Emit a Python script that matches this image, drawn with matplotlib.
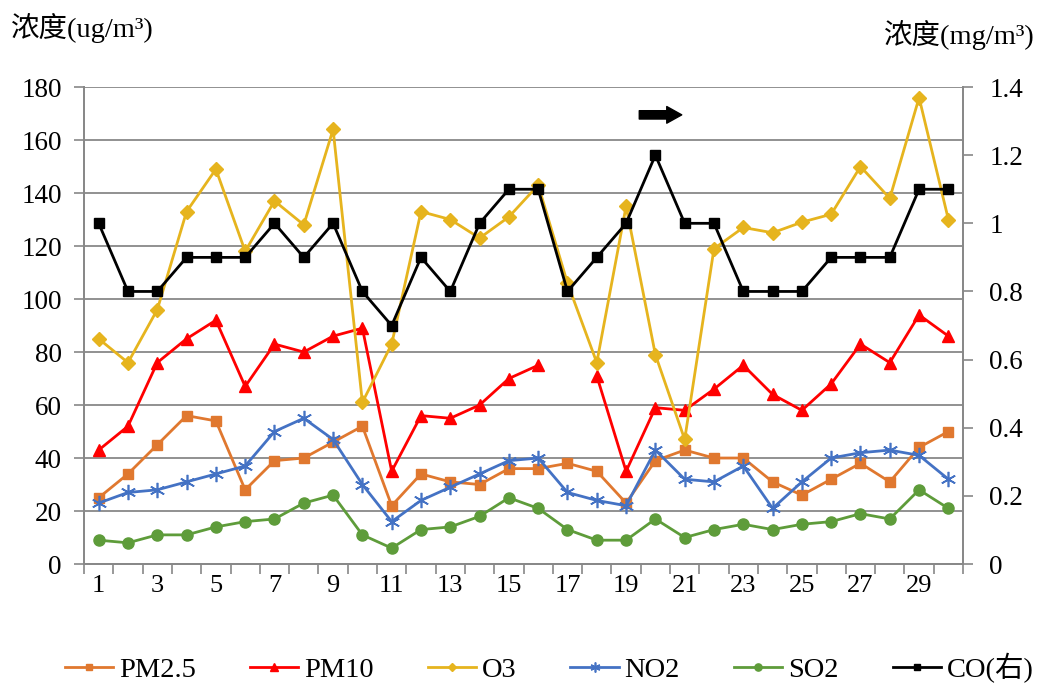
import numpy as np
import matplotlib
matplotlib.use('Agg')
from matplotlib import pyplot as plt
from matplotlib.ticker import FixedLocator, FuncFormatter

plt.rcParams['font.family'] = ['Liberation Serif', 'Noto Sans CJK SC']

days = np.arange(1, 31)
pm25 = [25, 34, 45, 56, 54, 28, 39, 40, 46, 52, 22, 34, 31, 30, 36, 36, 38, 35, 23, 39,
        43, 40, 40, 31, 26, 32, 38, 31, 44, 50]
pm10 = [43, 52, 76, 85, 92, 67, 83, 80, 86, 89, 35, 56, 55, 60, 70, 75, np.nan, 71, 35, 59,
        58, 66, 75, 64, 58, 68, 83, 76, 94, 86]
o3 = [85, 76, 96, 133, 149, 118, 137, 128, 164, 61, 83, 133, 130, 123, 131, 143, 106, 76, 135, 79,
      47, 119, 127, 125, 129, 132, 150, 138, 176, 130]
no2 = [23, 27, 28, 31, 34, 37, 50, 55, 47, 30, 16, 24, 29, 34, 39, 40, 27, 24, 22, 43,
       32, 31, 37, 21, 31, 40, 42, 43, 41, 32]
so2 = [9, 8, 11, 11, 14, 16, 17, 23, 26, 11, 6, 13, 14, 18, 25, 21, 13, 9, 9, 17,
       10, 13, 15, 13, 15, 16, 19, 17, 28, 21]
co = [1.0, 0.8, 0.8, 0.9, 0.9, 0.9, 1.0, 0.9, 1.0, 0.8, 0.7, 0.9, 0.8, 1.0, 1.1, 1.1, 0.8, 0.9, 1.0, 1.2,
      1.0, 1.0, 0.8, 0.8, 0.8, 0.9, 0.9, 0.9, 1.1, 1.1]

fig = plt.figure(figsize=(10.4, 6.88), dpi=100)
ax = fig.add_axes([0.0808, 0.1802, 0.8452, 0.6933])
ax2 = ax.twinx()

lw = 2.0
l1, = ax.plot(days, pm25, color='#E0782F', lw=lw, marker='s', ms=7.5, label='PM2.5')
l2, = ax.plot(days, pm10, color='#FF0000', lw=lw, marker='^', ms=8.5, label='PM10')
l3, = ax.plot(days, o3, color='#E6B41E', lw=lw, marker='D', ms=7, label='O3')
l4, = ax.plot(days, no2, color='#4472C4', lw=lw, marker=(6, 2, 0), ms=11, mew=1.2, label='NO2')
l5, = ax.plot(days, so2, color='#5E9C3A', lw=lw, marker='o', ms=8, label='SO2')
l6, = ax2.plot(days, co, color='black', lw=lw, marker='s', ms=7.5, label='CO(右)')

gray = '#888888'
ax.set_xlim(0.5, 30.5)
ax.set_ylim(0, 180)
ax.set_yticks(np.arange(0, 181, 20))
ax.yaxis.grid(True, color=gray, lw=1.3)
ax.set_axisbelow(True)
ax.xaxis.set_major_locator(FixedLocator(np.arange(1, 31, 2)))
ax.xaxis.set_minor_locator(FixedLocator(np.arange(0.5, 31, 1)))
ax.tick_params(axis='x', which='major', length=0, pad=8, labelsize=19)
ax.tick_params(axis='x', which='minor', length=7, color=gray, width=1.2)
ax.tick_params(axis='y', length=7, color=gray, width=1.2, labelsize=19.5, pad=9)

ax2.set_ylim(0, 1.4)
ax2.set_yticks(np.arange(0, 1.41, 0.2))
ax2.yaxis.set_major_formatter(FuncFormatter(lambda v, p: '{:g}'.format(round(v, 1))))
ax2.tick_params(axis='y', length=7, color=gray, width=1.2, labelsize=19.5, pad=12)

for a in (ax, ax2):
    a.spines['top'].set_visible(False)
    for s in ('left', 'right', 'bottom'):
        a.spines[s].set_color(gray)
        a.spines[s].set_linewidth(1.3)

ax.annotate('', xy=(20.9, 169.5), xytext=(19.45, 169.5),
            arrowprops=dict(arrowstyle='simple,head_length=0.9,head_width=1.0,tail_width=0.5',
                            mutation_scale=12, color='black', shrinkA=0, shrinkB=0))

fig.text(0.011, 1 - 28 / 688, '浓度(ug/m³)', fontsize=20.5, va='center', ha='left')
fig.text(0.850, 1 - 35 / 688, '浓度(mg/m³)', fontsize=20.5, va='center', ha='left')

fig.legend(handles=[l1, l2, l3, l4, l5, l6], loc='center', bbox_to_anchor=(0.528, 1 - 668 / 688),
           ncol=6, frameon=False, fontsize=20.5, handlelength=1.7, handletextpad=0.2,
           columnspacing=1.9, markerscale=0.65)

fig.savefig('out.png', dpi=100)
